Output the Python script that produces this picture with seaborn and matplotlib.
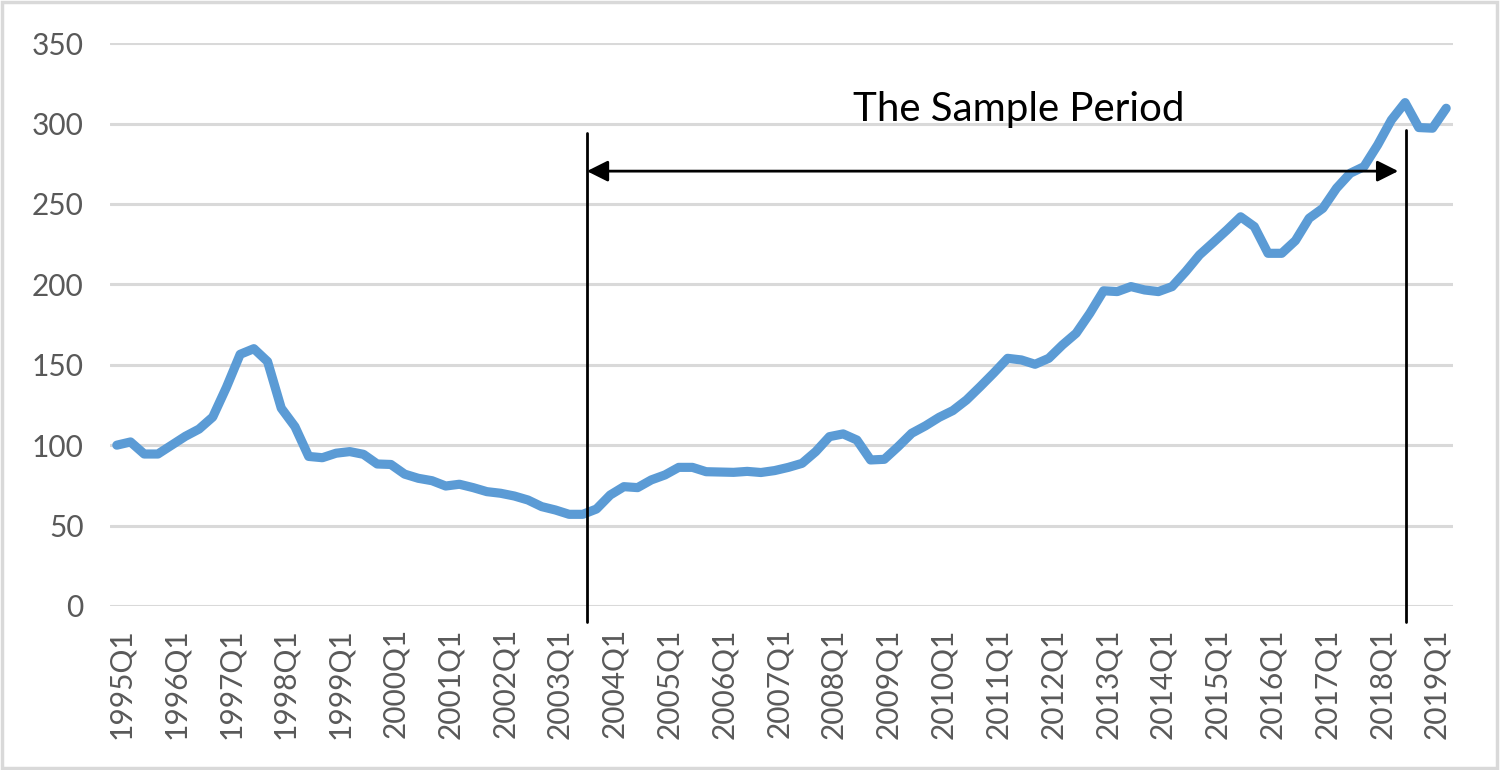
import numpy as np
import pandas as pd
import matplotlib
matplotlib.use("Agg")
import matplotlib.pyplot as plt
import seaborn as sns
from matplotlib.patches import Rectangle

# quarterly index, 1995Q1 .. 2019Q2
years = list(range(1995, 2020))
quarters = [f"{y}Q{q}" for y in years for q in range(1, 5)][:98]

values = [
    100, 102, 94.5, 94.5, 100, 105.5, 110, 117.5,          # 1995-1996
    136, 156.5, 160, 152, 123, 111.5, 93, 92.2,            # 1997-1998
    95, 96, 94.3, 88.3, 88, 82, 79.4, 77.9,                # 1999-2000
    74.6, 75.7, 73.6, 71.1, 70.1, 68.4, 65.9, 61.8,        # 2001-2002
    59.7, 57, 57, 60.3, 69, 74.2, 73.6, 78.4,              # 2003-2004
    81.5, 86.2, 86.2, 83.5, 83.3, 83.1, 83.7, 83,          # 2005-2006
    84.2, 86.2, 88.7, 96, 105.3, 107, 103.2, 90.8,         # 2007-2008
    91.2, 99, 107.4, 112, 117.3, 121.5, 128.1, 136.4,      # 2009-2010
    145, 154, 153, 150.3, 154, 162.3, 169.6, 182,          # 2011-2012
    196, 195.5, 198.6, 196.5, 195.5, 198.6, 208, 218.3,    # 2013-2014
    226, 233.8, 242, 235.9, 219.3, 219.3, 227.2, 241.1,    # 2015-2016
    247.3, 259.8, 269.1, 273.2, 286.7, 302.2, 313, 297.5,  # 2017-2018
    297.1, 309.5,                                          # 2019
]

sample_start = "2003Q3"
sample_end = "2018Q3"
sample_label = "The Sample Period"
y_ticks = [0, 50, 100, 150, 200, 250, 300, 350]

df = pd.DataFrame({"quarter": quarters, "value": values})
df["pos"] = np.arange(len(df))

sns.set_style("white")
plt.rcParams["font.family"] = ["Lato", "DejaVu Sans"]

fig = plt.figure(figsize=(15, 7.7), dpi=100)
ax = fig.add_axes([0.0733, 0.213, 0.8954, 0.731])

sns.lineplot(data=df, x="pos", y="value", ax=ax, color="#5B9BD5",
             linewidth=6.6, solid_joinstyle="round", solid_capstyle="round")

ax.set_ylim(0, 350)
ax.set_xlim(-0.5, len(df) - 0.5)
ax.set_yticks(y_ticks)
ax.yaxis.grid(True, color="#D9D9D9", linewidth=2.2)
ax.set_axisbelow(True)
for s in ax.spines.values():
    s.set_visible(False)

q1 = df[df["quarter"].str.endswith("Q1")]
ax.set_xticks(q1["pos"] + 0.3)
ax.set_xticklabels(q1["quarter"], rotation=90)
ax.tick_params(axis="both", length=0, labelsize=21.5, labelcolor="#595959")
ax.tick_params(axis="y", pad=19)
ax.tick_params(axis="x", pad=16)
ax.set_xlabel("")
ax.set_ylabel("")

# sample period markers
x0 = df.loc[df["quarter"] == sample_start, "pos"].iloc[0]
x1 = df.loc[df["quarter"] == sample_end, "pos"].iloc[0]
ax.plot([x0 + 0.3, x0 + 0.3], [-10, 294], color="black", linewidth=2, clip_on=False)
ax.plot([x1 + 0.05, x1 + 0.05], [-10, 296], color="black", linewidth=2, clip_on=False)
ax.annotate("", xy=(x1 - 0.5, 270.4), xytext=(x0 + 0.3, 270.4),
            arrowprops=dict(arrowstyle="<|-|>", color="black", linewidth=2,
                            mutation_scale=32, shrinkA=0, shrinkB=0))
ax.text((x0 + x1) / 2 + 1.8, 309, sample_label, ha="center", va="center",
        fontsize=29, color="black")

fig.patches.append(Rectangle((0.001, 0.002), 0.997, 0.996, transform=fig.transFigure,
                             fill=False, edgecolor="#D9D9D9", linewidth=2.5))

fig.savefig("out.png", dpi=100)
